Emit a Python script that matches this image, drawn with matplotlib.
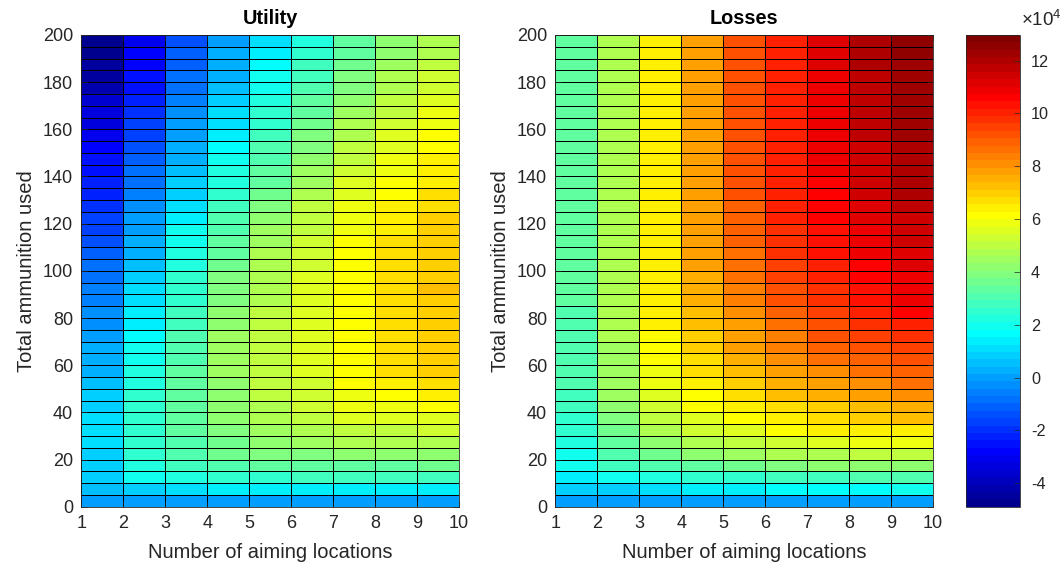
import numpy as np
import matplotlib
matplotlib.use("Agg")
import matplotlib.pyplot as plt
from matplotlib.colors import ListedColormap

# grid: number of aiming locations (x) and total ammunition (y)
x_edges = np.arange(1, 11)
y_edges = np.arange(0, 205, 5)

# cell values in units of 1e4, one list per x column, rows listed from y=195 down to y=0
util_1 = [-4.85, -4.77, -4.59, -4.33, -4.06, -3.71, -3.45, -3.27, -3.01, -2.84,
          -2.65, -2.47, -2.30, -2.12, -2.00, -1.77, -1.60, -1.35, -1.07, -0.90,
          -0.72, -0.64, -0.46, -0.33, -0.25, -0.11, 0.15, 0.33, 0.41, 0.59,
          0.76, 0.85, 1.03, 1.03, 1.03, 0.94, 0.94, 0.85, 0.68, 0.00]
util_2 = [-3.01, -2.92, -2.75, -2.65, -2.47, -2.21, -1.95, -1.77, -1.60, -1.42,
          -1.16, -0.90, -0.72, -0.55, -0.37, -0.11, 0.06, 0.24, 0.41, 0.68,
          0.85, 1.03, 1.20, 1.33, 1.46, 1.64, 1.81, 1.99, 2.25, 2.34,
          2.42, 2.51, 2.51, 2.51, 2.51, 2.42, 2.34, 1.99, 0.85, 0.00]
util_3 = [-1.53, -1.25, -1.07, -0.90, -0.72, -0.55, -0.29, -0.11, 0.06, 0.24,
          0.41, 0.59, 0.76, 0.94, 1.20, 1.46, 1.81, 1.85, 2.16, 2.34,
          2.42, 2.51, 2.60, 2.69, 2.86, 2.95, 3.04, 3.12, 3.21, 3.21,
          3.30, 3.30, 3.25, 3.21, 3.12, 3.04, 2.77, 2.25, 1.03, 0.00]
util_4 = [-0.02, 0.15, 0.24, 0.41, 0.68, 0.85, 1.03, 1.20, 1.46, 1.73,
          1.90, 2.16, 2.34, 2.51, 2.69, 2.95, 3.12, 3.30, 3.47, 3.65,
          3.82, 3.91, 4.00, 4.13, 4.26, 4.35, 4.35, 4.35, 4.35, 4.26,
          4.26, 4.17, 4.09, 3.91, 3.74, 3.56, 3.12, 2.51, 1.29, 0.00]
util_5 = [1.11, 1.29, 1.64, 1.81, 2.07, 2.25, 2.42, 2.60, 2.77, 2.95,
          3.12, 3.30, 3.47, 3.65, 3.91, 4.09, 4.35, 4.44, 4.61, 4.70,
          4.79, 4.87, 4.87, 4.96, 5.05, 5.05, 5.05, 5.05, 5.05, 4.96,
          4.96, 4.87, 4.70, 4.52, 4.26, 3.82, 3.30, 2.60, 1.38, 0.00]
util_6 = [2.34, 2.51, 2.69, 2.86, 3.04, 3.21, 3.39, 3.56, 3.82, 4.00,
          4.17, 4.35, 4.52, 4.70, 4.96, 5.05, 5.14, 5.22, 5.31, 5.40,
          5.49, 5.49, 5.49, 5.57, 5.57, 5.57, 5.57, 5.49, 5.49, 5.40,
          5.31, 5.22, 5.14, 4.79, 4.44, 4.00, 3.39, 2.69, 1.46, 0.00]
util_7 = [3.30, 3.47, 3.65, 3.82, 4.00, 4.26, 4.44, 4.61, 4.79, 4.96,
          5.14, 5.31, 5.49, 5.57, 5.75, 5.84, 5.92, 6.01, 6.01, 6.10,
          6.10, 6.10, 6.10, 6.10, 6.19, 6.19, 6.19, 6.19, 6.10, 6.01,
          5.92, 5.75, 5.57, 5.05, 4.61, 4.09, 3.47, 2.69, 1.46, 0.00]
util_8 = [4.09, 4.26, 4.44, 4.61, 4.79, 4.96, 5.14, 5.31, 5.49, 5.66,
          5.84, 5.92, 6.01, 6.19, 6.46, 6.46, 6.54, 6.63, 6.63, 6.72,
          6.72, 6.72, 6.72, 6.76, 6.72, 6.81, 6.81, 6.72, 6.63, 6.37,
          6.19, 5.92, 5.66, 5.14, 4.70, 4.17, 3.47, 2.69, 1.46, 0.00]
util_9 = [4.70, 4.87, 5.05, 5.22, 5.40, 5.57, 5.75, 5.84, 6.01, 6.10,
          6.28, 6.37, 6.46, 6.63, 6.81, 6.89, 6.89, 6.98, 7.07, 7.07,
          7.07, 7.16, 7.07, 7.07, 7.07, 7.07, 7.07, 6.98, 6.89, 6.63,
          6.37, 6.01, 5.66, 5.22, 4.79, 4.17, 3.56, 2.69, 1.46, 0.00]

loss_1 = [3.21, 3.21, 3.21, 3.21, 3.21, 3.21, 3.21, 3.21, 3.21, 3.21,
          3.21, 3.21, 3.21, 3.21, 3.21, 3.21, 3.21, 3.21, 3.21, 3.21,
          3.21, 3.21, 3.21, 3.12, 3.12, 3.12, 3.12, 3.04, 3.04, 2.95,
          2.86, 2.77, 2.60, 2.42, 2.25, 1.99, 1.81, 1.46, 0.94, 0.00]
loss_2 = [4.79, 4.79, 4.79, 4.79, 4.79, 4.79, 4.79, 4.79, 4.79, 4.79,
          4.79, 4.79, 4.79, 4.79, 4.79, 4.79, 4.79, 4.70, 4.70, 4.70,
          4.70, 4.70, 4.70, 4.61, 4.61, 4.61, 4.52, 4.52, 4.44, 4.44,
          4.35, 4.17, 4.00, 3.74, 3.47, 3.12, 2.69, 1.99, 0.94, 0.00]
loss_3 = [6.37, 6.37, 6.37, 6.37, 6.37, 6.37, 6.37, 6.37, 6.37, 6.37,
          6.37, 6.37, 6.37, 6.37, 6.37, 6.37, 6.37, 6.28, 6.28, 6.28,
          6.28, 6.28, 6.28, 6.28, 6.28, 6.19, 6.10, 6.01, 5.92, 5.75,
          5.57, 5.31, 4.96, 4.61, 4.17, 3.65, 3.12, 2.16, 1.11, 0.00]
loss_4 = [7.77, 7.77, 7.77, 7.77, 7.77, 7.77, 7.77, 7.77, 7.77, 7.77,
          7.77, 7.77, 7.77, 7.77, 7.77, 7.77, 7.77, 7.77, 7.68, 7.68,
          7.59, 7.51, 7.42, 7.33, 7.16, 7.07, 6.98, 6.81, 6.63, 6.37,
          6.19, 6.10, 5.66, 5.22, 4.70, 4.17, 3.47, 2.42, 1.38, 0.00]
loss_5 = [9.08, 9.08, 9.08, 9.08, 9.08, 9.08, 9.08, 9.08, 9.08, 9.08,
          9.08, 9.08, 9.08, 9.08, 9.00, 8.90, 8.82, 8.82, 8.73, 8.64,
          8.56, 8.47, 8.29, 8.12, 7.94, 7.85, 7.68, 7.51, 7.24, 6.98,
          6.81, 6.46, 6.19, 5.66, 5.05, 4.44, 3.74, 2.60, 1.46, 0.00]
loss_6 = [10.13, 10.13, 10.13, 10.13, 10.13, 10.13, 10.13, 10.13, 10.13, 10.13,
          10.13, 10.13, 10.13, 10.13, 10.04, 9.95, 9.87, 9.78, 9.69, 9.60,
          9.43, 9.25, 9.08, 8.90, 8.64, 8.47, 8.29, 8.03, 7.77, 7.42,
          7.16, 6.81, 6.54, 6.01, 5.40, 4.70, 3.91, 2.77, 1.55, 0.00]
loss_7 = [11.18, 11.09, 11.09, 11.01, 11.01, 10.92, 10.92, 10.83, 10.83, 10.74,
          10.74, 10.74, 10.66, 10.57, 10.57, 10.48, 10.39, 10.30, 10.22, 10.13,
          9.95, 9.87, 9.78, 9.52, 9.25, 9.08, 8.82, 8.56, 8.20, 7.85,
          7.51, 7.07, 6.72, 6.28, 5.57, 4.87, 4.09, 2.86, 1.64, 0.00]
loss_8 = [11.97, 11.88, 11.88, 11.79, 11.79, 11.70, 11.70, 11.62, 11.62, 11.53,
          11.53, 11.44, 11.35, 11.35, 11.18, 11.09, 11.00, 10.88, 10.78, 10.65,
          10.48, 10.39, 10.22, 10.04, 9.78, 9.52, 9.25, 8.99, 8.56, 8.20,
          7.85, 7.33, 6.98, 6.28, 5.84, 5.05, 4.17, 2.95, 1.73, 0.00]
loss_9 = [12.58, 12.49, 12.40, 12.32, 12.32, 12.23, 12.23, 12.14, 12.14, 12.05,
          12.05, 11.97, 11.88, 11.88, 11.70, 11.53, 11.44, 11.35, 11.27, 11.18,
          11.00, 10.92, 10.83, 10.48, 10.13, 9.87, 9.60, 9.34, 8.90, 8.56,
          8.12, 7.59, 7.24, 6.54, 5.92, 5.14, 4.26, 3.04, 1.81, 0.00]

c_min, c_max = -4.886e4, 12.97e4
cbar_ticks = [-4, -2, 0, 2, 4, 6, 8, 10, 12]

utility = np.array([util_1, util_2, util_3, util_4, util_5,
                    util_6, util_7, util_8, util_9]).T[::-1] * 1e4
losses = np.array([loss_1, loss_2, loss_3, loss_4, loss_5,
                   loss_6, loss_7, loss_8, loss_9]).T[::-1] * 1e4

# matlab style jet(64)
u = np.r_[np.arange(1, 17) / 16, np.ones(15), np.arange(16, 0, -1) / 16]
jet = np.zeros((64, 3))
g = np.arange(47) + 8
r = g + 16
b = g - 16
jet[g[g < 64], 1] = u[g < 64]
jet[r[r < 64], 0] = u[r < 64]
jet[b[b >= 0], 2] = u[b >= 0]
cmap = ListedColormap(jet)

plt.rcParams['font.family'] = ['Liberation Sans', 'DejaVu Sans']
txt = '#262626'

fig = plt.figure(figsize=(10.6, 5.66), dpi=100)
ax1 = fig.add_axes([81.4 / 1060, 0.1048, 377.2 / 1060, 0.8334])
ax2 = fig.add_axes([555.4 / 1060, 0.1048, 377.2 / 1060, 0.8334])

for ax, data, title in [(ax1, utility, 'Utility'), (ax2, losses, 'Losses')]:
    mesh = ax.pcolormesh(x_edges, y_edges, data, cmap=cmap, vmin=c_min, vmax=c_max,
                         edgecolors='k', linewidth=0.6, shading='flat')
    ax.set_xlim(1, 10)
    ax.set_ylim(0, 200)
    ax.set_xticks(range(1, 11))
    ax.set_yticks(range(0, 201, 20))
    ax.tick_params(direction='in', length=4, width=0.5, colors=txt, labelsize=13,
                   top=True, right=True, pad=6)
    for s in ax.spines.values():
        s.set_color(txt)
        s.set_linewidth(0.6)
    ax.set_xlabel('Number of aiming locations', fontsize=14.5, color=txt, labelpad=8)
    ax.set_ylabel('Total ammunition used', fontsize=14.5, color=txt, labelpad=5)
    ax.set_title(title, fontsize=14.3, fontweight='bold', color='k', pad=8)

cax = fig.add_axes([966 / 1060, 0.1048, 54 / 1060, 0.8334])
cb = fig.colorbar(mesh, cax=cax, ticks=np.array(cbar_ticks) * 1e4)
cb.ax.set_yticklabels([str(t) for t in cbar_ticks])
cb.ax.tick_params(direction='in', length=4, width=0.5, colors=txt, labelsize=11.7, pad=8)
cb.outline.set_edgecolor(txt)
cb.outline.set_linewidth(0.6)
fig.text(1021 / 1060, 1 - 20 / 566, r'$\mathregular{\times10^{4}}$', fontsize=13.5,
         color=txt, ha='left', va='center')

fig.savefig('out.png', dpi=100)
